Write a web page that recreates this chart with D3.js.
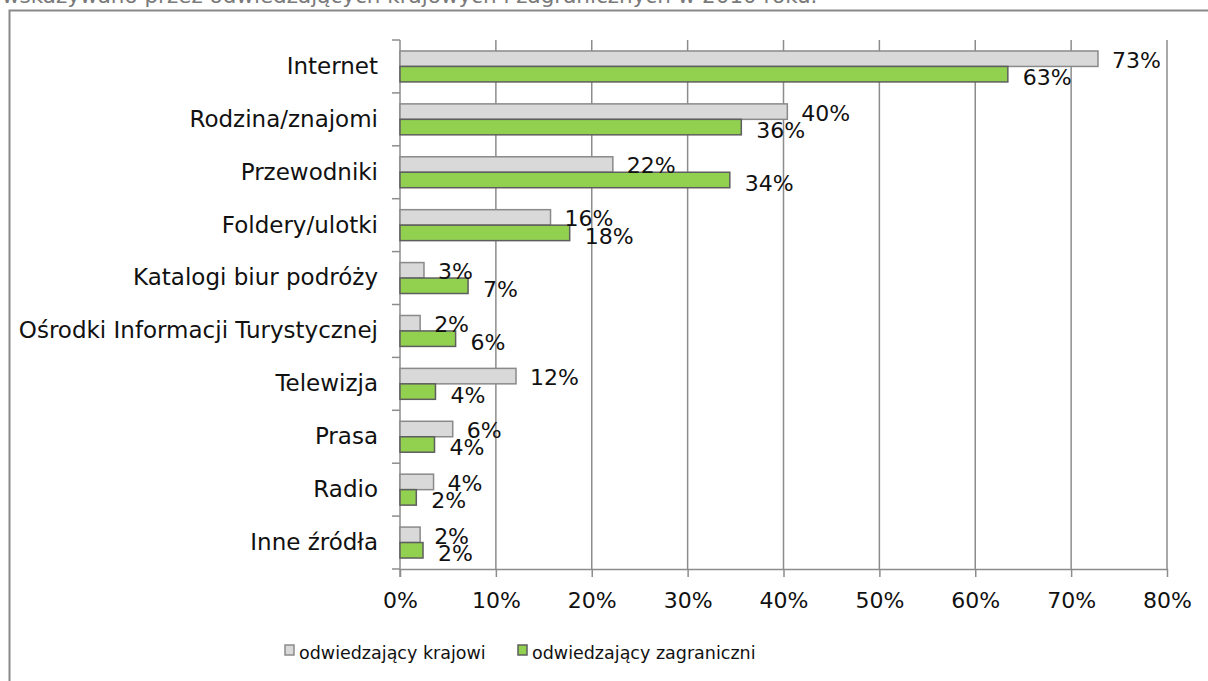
<!DOCTYPE html>
<html>
<head>
<meta charset="utf-8">
<script src="https://cdn.jsdelivr.net/npm/d3@7"></script>
<style>
  body { margin: 0; background: #fff; }
  svg { display: block; font-family: "DejaVu Sans", sans-serif; }
</style>
</head>
<body>
<svg id="chart" width="1208" height="681"></svg>
<script>
// Źródła informacji turystycznej – odwiedzający krajowi i zagraniczni (2010)
const categories = [
  "Internet", "Rodzina/znajomi", "Przewodniki", "Foldery/ulotki",
  "Katalogi biur podróży", "Ośrodki Informacji Turystycznej",
  "Telewizja", "Prasa", "Radio", "Inne źródła"
];
const seriesNames = ["odwiedzający krajowi", "odwiedzający zagraniczni"];
const domesticValues = [72.8, 40.4, 22.2, 15.7, 2.5, 2.1, 12.1, 5.5, 3.5, 2.1];
const foreignValues  = [63.4, 35.6, 34.4, 17.7, 7.1, 5.8, 3.7, 3.6, 1.7, 2.4];
const xTicks = [0, 10, 20, 30, 40, 50, 60, 70, 80];
const headingText = "wskazywano przez odwiedzających krajowych i zagranicznych w 2010 roku.";

const svg = d3.select("#chart");
const W = 1208, H = 681;
const plot = { left: 400, right: 1167, top: 40, bottom: 569 };
const fills = ["#d9d9d9", "#92d050"];
const strokes = ["#8a8a8a", "#5e5e5e"];
const gridColor = "#8c8c8c";
const fontSize = 22;

// heading line (partially above the visible area)
svg.append("text")
  .attr("x", 2).attr("y", 3)
  .attr("fill", "#7a7a7a")
  .attr("font-size", 21.5)
  .text(headingText);

// outer frame
svg.append("rect")
  .attr("x", 9.5).attr("y", 10.5)
  .attr("width", W + 20).attr("height", H + 20)
  .attr("fill", "none")
  .attr("stroke", "#898989")
  .attr("stroke-width", 2);

const x = d3.scaleLinear().domain([0, 80]).range([plot.left, plot.right]);
const padIn = 0.415;
const y = d3.scaleBand().domain(categories)
  .range([plot.top, plot.bottom])
  .paddingInner(padIn).paddingOuter(padIn / 2);
const sub = d3.scaleBand().domain([0, 1]).range([0, y.bandwidth()]);

// vertical gridlines
svg.append("g")
  .selectAll("line")
  .data(xTicks.filter(t => t > 0))
  .join("line")
  .attr("x1", d => x(d)).attr("x2", d => x(d))
  .attr("y1", plot.top).attr("y2", plot.bottom)
  .attr("stroke", gridColor)
  .attr("stroke-width", 1.5);

// x axis
const xAxis = svg.append("g")
  .attr("transform", `translate(0,${plot.bottom})`)
  .call(d3.axisBottom(x).tickValues(xTicks).tickFormat(d => d + "%").tickSize(8).tickSizeOuter(0));
xAxis.select(".domain").attr("stroke", gridColor).attr("stroke-width", 1.5);
xAxis.selectAll(".tick line").attr("stroke", gridColor).attr("stroke-width", 1.5);
xAxis.selectAll(".tick text")
  .attr("font-family", "DejaVu Sans").attr("font-size", fontSize)
  .attr("fill", "#111").attr("dy", "1.25em");

// y axis with category labels
const yAxis = svg.append("g")
  .attr("transform", `translate(${plot.left},0)`)
  .call(d3.axisLeft(y).tickSize(0).tickPadding(22));
yAxis.select(".domain").remove();
yAxis.selectAll(".tick text")
  .attr("font-family", "DejaVu Sans").attr("font-size", 23)
  .attr("fill", "#111");

// y axis line and category boundary ticks
svg.append("line")
  .attr("x1", plot.left).attr("x2", plot.left)
  .attr("y1", plot.top).attr("y2", plot.bottom + 8)
  .attr("stroke", gridColor).attr("stroke-width", 1.5);
const boundaries = d3.range(categories.length + 1).map(i =>
  i < categories.length ? y(categories[i]) - y.step() * padIn / 2 : plot.bottom);
svg.append("g").selectAll("line")
  .data(boundaries)
  .join("line")
  .attr("x1", plot.left - 8).attr("x2", plot.left)
  .attr("y1", d => d).attr("y2", d => d)
  .attr("stroke", gridColor).attr("stroke-width", 1.5);

// bars and value labels
const rows = categories.map((c, i) => ({ cat: c, vals: [domesticValues[i], foreignValues[i]] }));
const groups = svg.append("g").selectAll("g")
  .data(rows)
  .join("g")
  .attr("transform", d => `translate(0,${y(d.cat)})`);

groups.selectAll("rect")
  .data(d => d.vals.map((v, s) => ({ v, s })))
  .join("rect")
  .attr("x", x(0))
  .attr("y", d => sub(d.s))
  .attr("width", d => x(d.v) - x(0))
  .attr("height", sub.bandwidth())
  .attr("fill", d => fills[d.s])
  .attr("stroke", d => strokes[d.s])
  .attr("stroke-width", 1.5);

groups.selectAll("text")
  .data(d => d.vals.map((v, s) => ({ v, s })))
  .join("text")
  .attr("x", d => x(d.v) + (d.s === 0 ? 14 : 15))
  .attr("y", d => sub(d.s) + sub.bandwidth() / 2 + (d.s === 0 ? 1 : 3))
  .attr("dy", "0.36em")
  .attr("font-size", fontSize)
  .attr("fill", "#111")
  .text(d => d3.format(".0f")(d.v) + "%");

// legend
const legendPos = [285, 518];
const legend = svg.append("g").selectAll("g")
  .data(seriesNames)
  .join("g")
  .attr("transform", (d, i) => `translate(${legendPos[i]},645)`);
legend.append("rect")
  .attr("width", 9).attr("height", 10)
  .attr("fill", (d, i) => fills[i])
  .attr("stroke", (d, i) => strokes[i])
  .attr("stroke-width", 1.5);
legend.append("text")
  .attr("x", 14).attr("y", 14)
  .attr("font-size", 17.5)
  .attr("fill", "#111")
  .text(d => d);
</script>
</body>
</html>
